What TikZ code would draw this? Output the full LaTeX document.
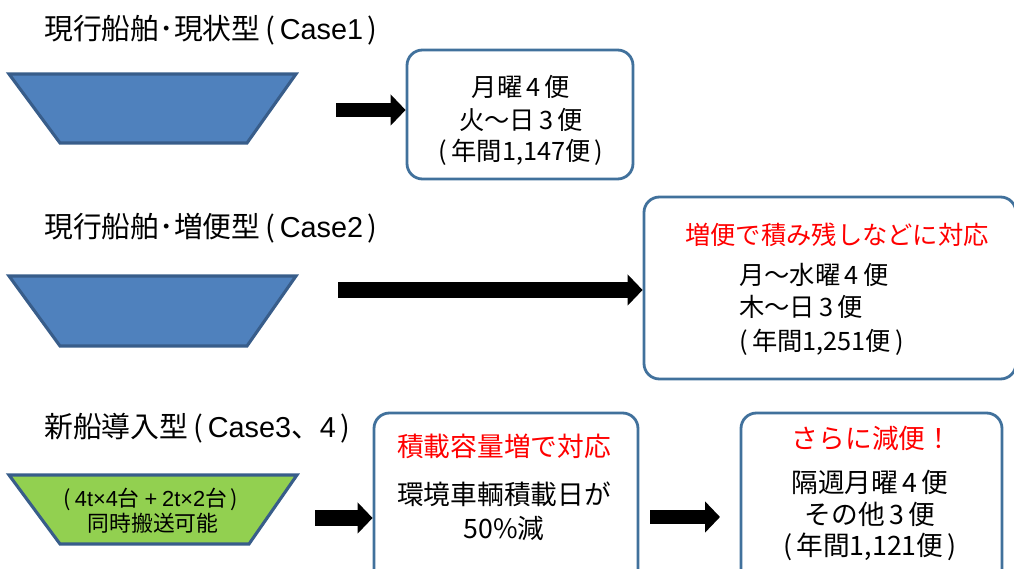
\documentclass[tikz,border=0pt]{standalone}
\usepackage{fontspec}
\setmainfont{Noto Sans CJK JP}
\newfontfamily\latinsans{Liberation Sans}
\usetikzlibrary{arrows.meta}
\definecolor{shipblue}{HTML}{4F81BD}
\definecolor{shipedge}{HTML}{385D8A}
\definecolor{shipgreen}{HTML}{92D050}
\definecolor{boxedge}{HTML}{41719C}
\begin{document}
\begin{tikzpicture}[x=0.025cm,y=-0.025cm,
  titletext/.style={anchor=west,inner sep=0pt,font=\fontsize{20.5}{24}\selectfont},
  bodytext/.style={inner sep=0pt,font=\fontsize{18}{21}\selectfont},
  bigtext/.style={inner sep=0pt,font=\fontsize{19}{22}\selectfont},
  shiptext/.style={inner sep=0pt,font=\fontsize{15.5}{18}\selectfont},
  ship/.style={draw=shipedge,line width=2.2pt,line join=miter},
  infobox/.style={draw=boxedge,line width=2pt,rounded corners=11pt,fill=white,inner sep=0pt},
  blockarrow/.style={line width=10.6pt,-{Triangle[length=10.6pt,width=21.5pt]}}]
\useasboundingbox (0,0) rectangle (1014,569);

% titles
\node[titletext] (t1) at (44,30) {現行船舶･現状型\,(\,{\latinsans Case1}\,)};
\node[titletext] (t2) at (44,228) {現行船舶･増便型\,(\,{\latinsans Case2}\,)};
\node[titletext] (t3) at (44,428) {新船導入型\,(\,{\latinsans Case3}、{\latinsans 4}\,)};

% ships
\draw[ship,fill=shipblue] (9,74) -- (296,74) -- (247,143) -- (60,143) -- cycle;
\draw[ship,fill=shipblue] (9,276) -- (296,276) -- (247,346) -- (60,346) -- cycle;
\draw[ship,fill=shipgreen] (9,475) -- (297,475) -- (249,544) -- (60,544) -- cycle;
\node[shiptext] (s3a) at (151,499) {(\,{\latinsans 4t×4}台 {\latinsans +} {\latinsans 2t×2}台\,)};
\node[shiptext] (s3b) at (153,523) {同時搬送可能};

% boxes
\node[infobox,minimum width=226*0.025cm,minimum height=129*0.025cm] (b1) at (520,114.5) {};
\node[infobox,minimum width=372*0.025cm,minimum height=182*0.025cm] (b2) at (830,288) {};
\node[infobox,minimum width=264*0.025cm,minimum height=190*0.025cm] (b3) at (506,508) {};
\node[infobox,minimum width=261*0.025cm,minimum height=190*0.025cm] (b4) at (871.5,508) {};

% box 1 text
\node[bodytext] (b1l1) at (521,87) {月曜\,4\,便};
\node[bodytext] (b1l2) at (521,120) {火～日\,3\,便};
\node[bodytext] (b1l3) at (521,152) {(\,年間1,147便\,)};

% box 2 text
\node[bodytext,text=red] (b2r) at (837,235) {増便で積み残しなどに対応};
\node[bodytext,anchor=west] (b2l1) at (739,275) {月～水曜\,4\,便};
\node[bodytext,anchor=west] (b2l2) at (739,307) {木～日\,3\,便};
\node[bodytext,anchor=west] (b2l3) at (739,342) {(\,年間1,251便\,)};

% box 3 text
\node[bigtext,text=red] (b3r) at (504,446) {積載容量増で対応};
\node[bigtext] (b3l1) at (504,494) {環境車輌積載日が};
\node[bigtext] (b3l2) at (504,528) {50\%減};

% box 4 text
\node[bigtext,text=red] (b4r) at (872,438) {さらに減便！};
\node[bigtext] (b4l1) at (870,482) {隔週月曜\,4\,便};
\node[bigtext] (b4l2) at (870,514) {その他\,3\,便};
\node[bigtext] (b4l3) at (870,547) {(\,年間1,121便\,)};

% arrows
\coordinate (a1s) at (336,110);
\coordinate (a2s) at (338,290);
\coordinate (a3s) at (315,518);
\coordinate (a4s) at (650,517);
\coordinate (a4e) at (720,517);
\draw[blockarrow] (a1s) -- (a1s -| b1.west);
\draw[blockarrow,line width=12pt] (a2s) -- (a2s -| b2.west);
\draw[blockarrow,line width=12pt] (a3s) -- (a3s -| b3.west);
\draw[blockarrow] (a4s) -- (a4e);
\end{tikzpicture}
\end{document}
